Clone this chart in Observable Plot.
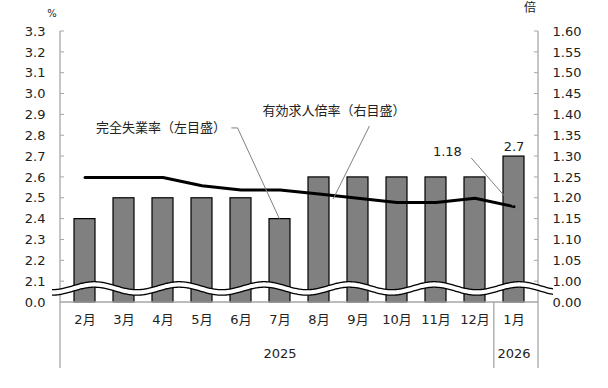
<!DOCTYPE html>
<html><head><meta charset="utf-8">
<script src="https://cdn.jsdelivr.net/npm/d3@7"></script>
<script src="https://cdn.jsdelivr.net/npm/@observablehq/plot@0.6"></script>
<style>body{margin:0;background:#fff} svg{display:block}</style>
</head><body><div id="chart"></div>
<script>
const months = ["2月","3月","4月","5月","6月","7月","8月","9月","10月","11月","12月","1月"];
const unemployment = [2.4,2.5,2.5,2.5,2.5,2.4,2.6,2.6,2.6,2.6,2.6,2.7];
const jobRatio = [1.25,1.25,1.25,1.23,1.22,1.22,1.21,1.20,1.19,1.19,1.20,1.18];
const years = ["2025","2026"];
const yearMid = ["7月","1月"];
const leftTicks = [2.0,2.1,2.2,2.3,2.4,2.5,2.6,2.7,2.8,2.9,3.0,3.1,3.2,3.3];
const leftTickLabels = ["0.0","2.1","2.2","2.3","2.4","2.5","2.6","2.7","2.8","2.9","3.0","3.1","3.2","3.3"];
const rightTickLabels = ["0.00","1.00","1.05","1.10","1.15","1.20","1.25","1.30","1.35","1.40","1.45","1.50","1.55","1.60"];
const lastValueLabel = "2.7";
// annotations: i = fractional category index, v = left-axis value
const annotations = [
  {text:"完全失業率（左目盛）", i:0.30, v:2.835, anchor:"start"},
  {text:"有効求人倍率（右目盛）", i:4.57, v:2.921, anchor:"start"},
  {text:"1.18", i:9.31, v:2.724, anchor:"middle"}
];
const leaders = [
  [[3.77,2.835],[3.93,2.835],[5,2.4]],
  [[7.31,2.844],[6.38,2.494]],
  [[9.92,2.691],[11,2.46]]
];
const toLeft = r => 2.1 + (r - 1) * 2;
const PAD = 0.47;
const data = months.map((m,i)=>({month:m, u:unemployment[i], r:jobRatio[i]}));
const FONT = '"DejaVu Sans","Noto Sans CJK JP",sans-serif';

function decor(index, scales, values, dim) {
  const x = scales.x, y = scales.y;
  const step = x(months[1]) - x(months[0]);
  const bw = step * (1 - PAD);
  const cx = i => x(months[0]) + bw / 2 + i * step;
  const left = dim.marginLeft, right = dim.width - dim.marginRight;
  const top = dim.marginTop, bottom = dim.height - dim.marginBottom;
  const ext = bottom + 66;
  const grey = "#a6a6a6";
  const g = d3.create("svg:g");
  // baseline
  g.append("line").attr("x1", left).attr("x2", right).attr("y1", bottom).attr("y2", bottom)
    .attr("stroke", grey).attr("stroke-width", 1.5);
  // axis lines and separators
  const sep = x("1月") - (step - bw) / 2;
  [[left, top], [right, top], [sep, bottom]].forEach(([xx, y0]) => {
    g.append("line").attr("x1", xx).attr("x2", xx).attr("y1", y0).attr("y2", ext)
      .attr("stroke", grey).attr("stroke-width", 1.3);
  });
  // ticks (inward)
  leftTicks.slice(1).forEach(v => {
    g.append("line").attr("x1", left).attr("x2", left + 4).attr("y1", y(v)).attr("y2", y(v)).attr("stroke", grey);
    g.append("line").attr("x1", right).attr("x2", right - 4).attr("y1", y(v)).attr("y2", y(v)).attr("stroke", grey);
  });
  // break band
  const yc = y(2.065), A = 4, half = 2.75, P = 85, peak = cx(0) + 10;
  const xs = d3.range(left - 8, right + 15.01, 1);
  const c = xx => yc - A * Math.cos(2 * Math.PI * (xx - peak) / P);
  const up = xs.map(xx => [xx, c(xx) - half]);
  const lo = xs.map(xx => [xx, c(xx) + half]);
  const line = d3.line();
  g.append("path").attr("d", line(up.concat(lo.slice().reverse())) + "Z").attr("fill", "#fff");
  g.append("path").attr("d", line(up)).attr("fill", "none").attr("stroke", "#000").attr("stroke-width", 1.3);
  g.append("path").attr("d", line(lo)).attr("fill", "none").attr("stroke", "#000").attr("stroke-width", 1.3);
  // leader lines
  leaders.forEach(pts => {
    g.append("path").attr("d", line(pts.map(([i, v]) => [cx(i), y(v)])))
      .attr("fill", "none").attr("stroke", "#808080").attr("stroke-width", 1);
  });
  // annotation texts
  annotations.forEach(a => {
    g.append("text").attr("x", cx(a.i)).attr("y", y(a.v)).attr("dy", "0.35em")
      .attr("text-anchor", a.anchor).attr("font-size", 13).attr("fill", "#222")
      .attr("font-family", FONT).text(a.text);
  });
  // unit labels
  g.append("text").attr("x", left - 8).attr("y", top - 18).attr("dy", "0.35em").attr("text-anchor", "middle")
    .attr("font-size", 10).attr("fill", "#222").text("%");
  g.append("text").attr("x", right - 8).attr("y", top - 23).attr("dy", "0.35em").attr("text-anchor", "middle")
    .attr("font-size", 12).attr("fill", "#222").attr("font-family", FONT).text("倍");
  return g.node();
}

const chart = Plot.plot({
  width: 608, height: 388,
  marginTop: 31, marginBottom: 86, marginLeft: 60, marginRight: 70,
  style: {fontFamily: FONT, fontSize: "13px", color: "#222", background: "#fff", overflow: "visible"},
  x: {domain: months, paddingInner: PAD, paddingOuter: PAD / 2, axis: null},
  y: {domain: [2.0, 3.3], axis: null},
  marks: [
    Plot.barY(data, {x: "month", y1: 2.0, y2: "u", fill: "#808080", stroke: "#000", strokeWidth: 1.2}),
    Plot.line(data, {x: "month", y: d => toLeft(d.r), stroke: "#000", strokeWidth: 3}),
    decor,
    Plot.axisY({anchor: "left", ticks: leftTicks, tickFormat: d => leftTickLabels[leftTicks.indexOf(d)], tickSize: 0, tickPadding: 15, label: null, fontSize: 13}),
    Plot.axisY({anchor: "right", ticks: leftTicks, tickFormat: d => rightTickLabels[leftTicks.indexOf(d)], tickSize: 0, tickPadding: 14, label: null, fontSize: 13}),
    Plot.text(data, {x: "month", text: "month", frameAnchor: "bottom", dy: 21, fontSize: 13}),
    Plot.text(years, {x: (d, i) => yearMid[i], text: d => d, frameAnchor: "bottom", dy: 55, fontSize: 13}),
    Plot.text([data[data.length - 1]], {x: "month", y: "u", text: () => lastValueLabel, dy: -10, fontSize: 13})
  ]
});
document.getElementById("chart").appendChild(chart);
</script>
</body></html>
